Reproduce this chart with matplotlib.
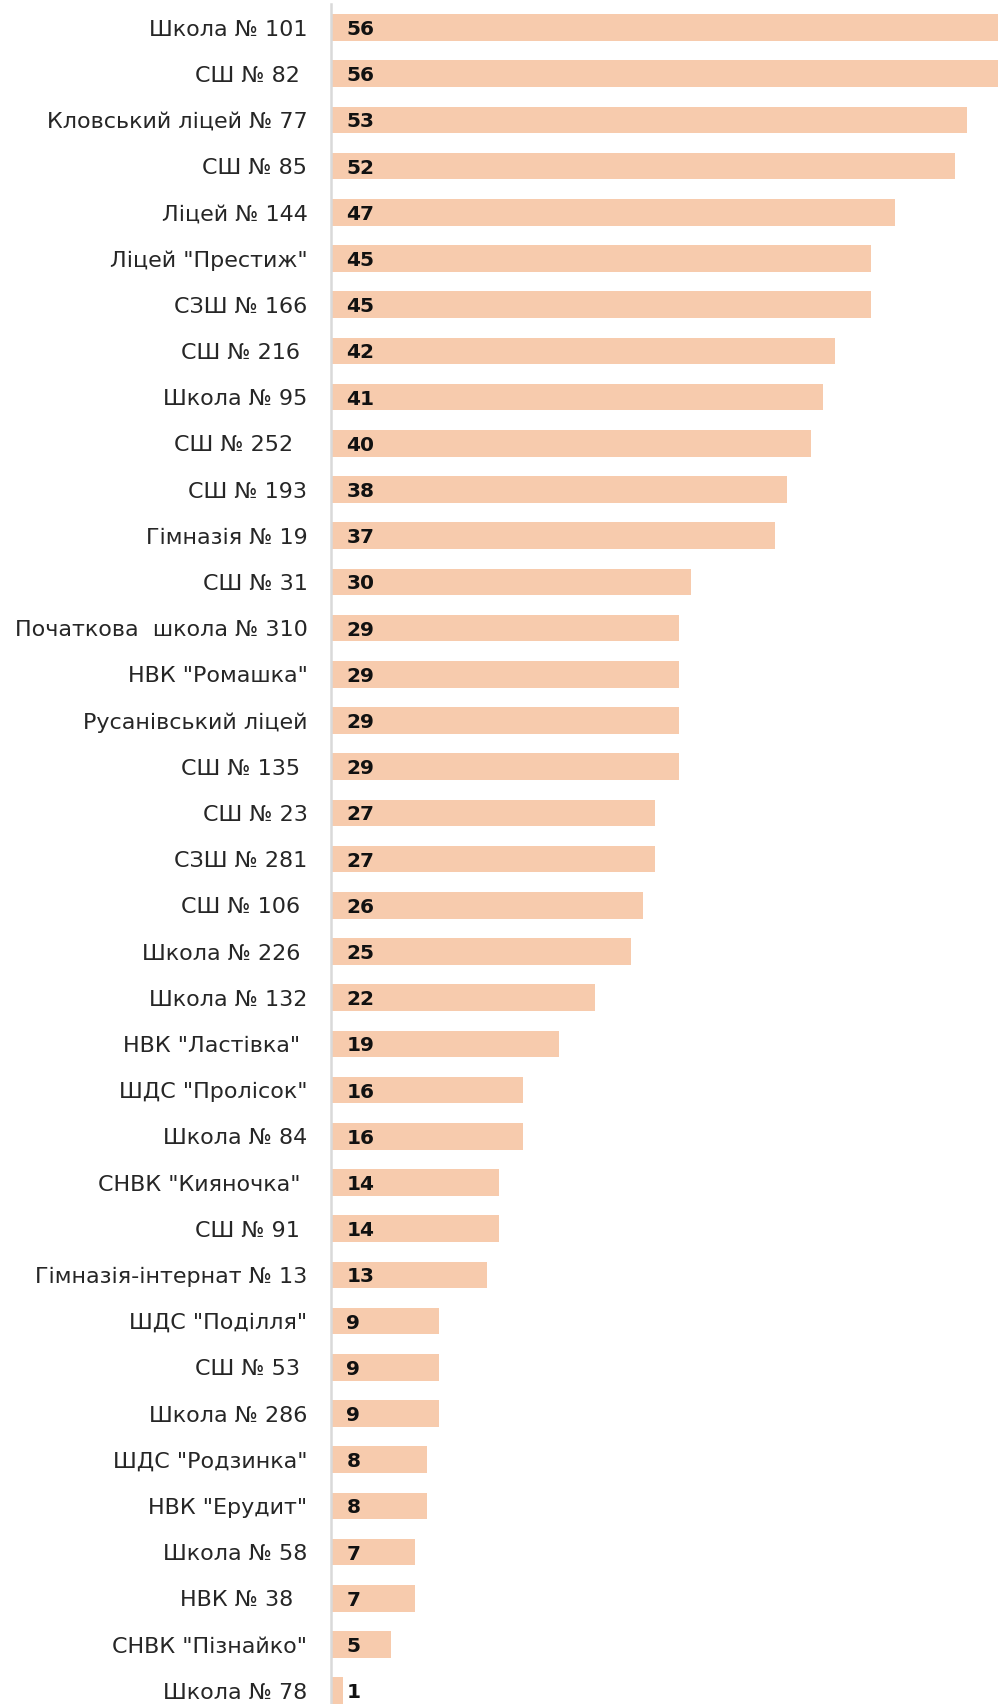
import matplotlib

matplotlib.use("Agg")

import matplotlib.pyplot as plt

schools = [
    "Школа № 101", "СШ № 82 ", "Кловський ліцей № 77", "СШ № 85", "Ліцей № 144",
    'Ліцей "Престиж"', "СЗШ № 166", "СШ № 216 ", "Школа № 95", "СШ № 252  ",
    "СШ № 193", "Гімназія № 19", "СШ № 31", "Початкова  школа № 310", 'НВК "Ромашка"',
    "Русанівський ліцей", "СШ № 135 ", "СШ № 23", "СЗШ № 281", "СШ № 106 ",
    "Школа № 226 ", "Школа № 132", 'НВК "Ластівка" ', 'ШДС "Пролісок"', "Школа № 84",
    'СНВК "Кияночка" ', "СШ № 91 ", "Гімназія-інтернат № 13", 'ШДС "Поділля"', "СШ № 53 ",
    "Школа № 286", 'ШДС "Родзинка"', 'НВК "Ерудит"', "Школа № 58", "НВК № 38  ",
    'СНВК "Пізнайко"', "Школа № 78",
]
counts = [
    56, 56, 53, 52, 47, 45, 45, 42, 41, 40, 38, 37, 30, 29, 29, 29, 29, 27, 27, 26,
    25, 22, 19, 16, 16, 14, 14, 13, 9, 9, 9, 8, 8, 7, 7, 5, 1,
]

W, H, DPI = 998, 1704, 100
fig = plt.figure(figsize=(W / DPI, H / DPI), dpi=DPI)

# layout measured in pixels from the reference
left, top, row_h = 331, 4.4, 46.2
ax = fig.add_axes([left / W, 0, 1 - left / W, (H - top) / H])

pos = list(range(len(schools)))
ax.barh(pos, counts, height=0.58, color="#F7CBAD")

ax.set_xlim(0, (W - left) / 12.0)
ax.set_ylim(-0.5 + (H - top) / row_h, -0.5)

ax.set_yticks(pos, labels=schools, fontsize=16, color="#262626")
ax.tick_params(axis="y", length=0, pad=17)
ax.set_xticks([])
for side in ["top", "right", "bottom"]:
    ax.spines[side].set_visible(False)
ax.spines["left"].set_color("#D9D9D9")
ax.spines["left"].set_linewidth(1.8)

for i, v in enumerate(counts):
    ax.annotate(str(v), (0, i), xytext=(11, -1.5), textcoords="offset points",
                va="center", ha="left", fontsize=14.5, fontweight="bold",
                color="#111111")

fig.savefig("out.png", dpi=DPI)
